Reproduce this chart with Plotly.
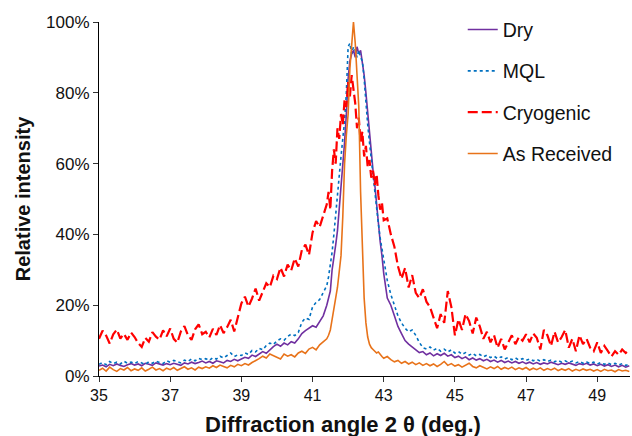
import numpy as np
import plotly.graph_objects as go

# Sampling grid for 2-theta (deg): coarse tails, finer steps across the peak
two_theta = np.round(np.concatenate([
    np.arange(35.0, 41.45, 0.1),
    np.arange(41.45, 43.01, 0.05),
    np.arange(43.1, 49.95, 0.1),
]), 2)

# Relative intensity (%) for each condition
dry = [
    2.8, 3.1, 2.6, 3.3, 2.9, 3.4, 3.0, 2.7, 3.2, 3.5,
    3.1, 3.4, 2.9, 3.6, 3.3, 3.0, 3.7, 3.4, 3.1, 3.5,
    3.2, 3.6, 3.3, 3.0, 3.7, 3.4, 3.9, 3.5, 3.8, 4.2,
    3.7, 4.1, 3.6, 4.3, 4.0, 3.7, 4.4, 4.1, 4.7, 4.3,
    4.8, 5.3, 5.0, 5.9, 5.5, 6.3, 6.9, 6.4, 7.5, 8.3,
    9.0, 8.4, 9.3, 8.8, 9.7, 9.3, 10.5, 12.0, 12.8, 13.6,
    14.2, 13.8, 15.5, 17.0, 20.0,
    22, 24, 30, 33, 37, 41, 47, 52, 58, 66,
    74, 84, 89, 91, 92, 90, 93, 91, 92, 89,
    85, 80, 74, 69, 63, 58, 54, 48, 43, 38,
    34, 29,
    22, 20, 17, 14, 12, 10, 9.0, 8.2, 7.5,
    6.6, 6.9, 6.0, 6.5, 5.7, 6.3, 5.8, 6.4, 5.6, 6.0,
    5.2, 5.6, 4.9, 5.4, 4.6, 5.1, 4.5, 4.9, 4.3, 4.7,
    4.1, 4.5, 3.9, 4.4, 3.8, 4.2, 3.7, 4.1, 3.6, 4.0,
    3.5, 3.9, 3.4, 3.8, 3.3, 3.7, 3.4, 3.9, 3.5, 3.2,
    3.6, 3.3, 3.7, 3.4, 3.0, 3.5, 3.2, 3.6, 3.1, 3.4,
    2.9, 3.3, 2.8, 3.2, 2.7, 3.1, 2.6, 3.0, 2.5, 2.9,
]

mql = [
    3.3, 3.8, 3.2, 4.1, 3.5, 3.9, 3.4, 4.2, 3.6, 3.9,
    3.5, 4.1, 3.7, 3.3, 4.0, 3.6, 4.2, 3.8, 3.5, 4.3,
    3.9, 4.4, 4.0, 3.7, 4.5, 4.1, 4.8, 4.3, 5.0, 4.6,
    4.9, 4.4, 5.2, 4.8, 5.6, 5.1, 5.8, 6.5, 5.5, 6.0,
    5.8, 6.5, 6.1, 7.2, 6.8, 7.8, 7.4, 8.6, 9.3, 8.9,
    9.9, 10.5, 10.1, 11.2, 11.8, 11.4, 12.3, 15.2, 16.4, 16.0,
    19.5, 20.8, 21.6, 23.5, 25.5,
    28, 31, 35, 40, 46, 51, 56, 62, 67, 72,
    80, 93, 94, 91, 93, 92, 90, 92, 90, 89,
    84, 77, 71, 66, 61, 56, 51, 47, 43, 39,
    36, 32,
    27, 23, 20, 17, 15, 13.5, 12.5, 13.0, 11.5,
    9.5, 8.0, 7.6, 8.2, 7.3, 7.8, 7.0, 7.6, 6.8, 7.4,
    6.5, 6.9, 6.1, 6.6, 5.9, 6.4, 5.7, 6.1, 5.4, 5.9,
    5.2, 5.6, 4.9, 5.4, 4.8, 5.2, 4.6, 5.1, 4.5, 4.9,
    4.4, 4.8, 4.3, 4.7, 4.2, 4.6, 4.1, 4.5, 4.0, 4.4,
    3.9, 4.3, 3.8, 4.2, 3.7, 4.1, 3.6, 4.0, 3.5, 3.9,
    3.4, 3.8, 3.3, 3.7, 3.2, 3.6, 3.1, 3.5, 3.0, 3.4,
]

cryogenic = [
    10.5, 12.8, 11.4, 9.2, 11.8, 13.1, 10.6, 11.9, 10.2, 12.3,
    11.0, 9.3, 8.2, 10.8, 9.7, 12.4, 11.1, 10.3, 12.9, 11.2,
    13.4, 10.5, 9.4, 12.6, 14.1, 11.5, 10.2, 13.2, 14.6, 11.8,
    12.5, 10.9, 13.3, 11.6, 14.4, 12.1, 13.8, 15.9, 12.6, 16.8,
    20.5, 22.4, 19.6, 21.9, 24.7, 21.3, 23.8, 26.2, 25.1, 28.3,
    27.4, 30.6, 28.1, 31.5, 29.8, 33.2, 30.9, 35.6, 37.1, 34.2,
    40.5, 43.8, 42.1, 45.2, 48.5,
    52, 47, 58, 64, 60, 70, 67, 74, 71, 78,
    76, 83, 79, 85, 81, 77, 70, 73, 66, 69,
    62, 65, 59, 61, 56, 58, 54, 57, 51, 47,
    49, 44,
    44.5, 40.0, 36.5, 31.0, 27.5, 30.5, 25.0, 28.5, 23.5,
    22.0, 24.5, 21.0, 19.5, 16.5, 13.5, 17.5, 15.0, 24.0, 19.5,
    11.5, 16.0, 13.0, 17.5, 15.5, 12.0, 16.5, 14.0, 10.5, 12.5,
    9.5, 11.5, 8.0, 10.5, 7.5, 9.5, 11.5, 9.0, 11.0, 10.0,
    11.8, 9.5, 12.0, 10.8, 7.5, 13.0, 11.5, 8.5, 12.5, 9.5,
    11.0, 13.0, 8.0, 10.5, 7.0, 11.5, 9.0, 10.5, 8.0, 7.0,
    9.5, 6.5, 8.5, 7.0, 5.5, 7.0, 6.0, 7.5, 6.5, 7.5,
]

as_received = [
    1.6, 2.2, 1.4, 2.5, 1.8, 1.3, 2.1, 1.7, 2.4, 1.5,
    2.0, 1.6, 2.3, 1.4, 1.9, 2.5, 1.7, 2.1, 1.5, 2.2,
    1.8, 2.4, 1.6, 2.0, 2.6, 1.9, 2.3, 1.7, 2.5, 2.1,
    2.6, 2.2, 2.9, 2.4, 3.1, 2.7, 2.3, 3.0, 2.6, 3.3,
    2.9, 3.5, 3.1, 3.8, 4.3, 4.9, 5.6, 5.1, 6.2, 5.7,
    5.3, 4.8, 6.2, 5.6, 6.0, 5.4, 6.5, 7.0, 6.4, 7.6,
    8.1, 7.4, 8.8, 9.6, 10.5,
    11.5, 13.0, 16.0, 19.5, 22.0, 25.0, 29.0, 34.0, 45.0, 60.0,
    68.0, 74.0, 87.0, 94.0, 100.0, 94.0, 85.0, 76.0, 52.0, 35.0,
    22.0, 15.0, 11.0, 9.0, 8.0, 7.5, 7.0, 6.5, 6.8, 6.0,
    5.5, 5.0,
    5.5, 4.6, 4.0, 4.4, 3.6, 4.1, 3.4, 3.9, 3.2,
    3.7, 3.0, 3.5, 2.9, 3.4, 2.7, 3.3, 4.1, 3.0, 3.5,
    2.8, 3.2, 2.5, 3.0, 3.6, 2.7, 2.3, 2.9, 2.4, 2.0,
    2.6, 2.1, 2.7, 1.9, 2.4, 2.0, 2.5, 1.8, 2.3, 1.9,
    2.4, 1.7, 2.2, 1.8, 2.3, 1.6, 2.1, 1.7, 2.2, 1.5,
    2.0, 1.6, 2.1, 1.4, 1.9, 1.5, 2.0, 1.6, 1.9, 1.4,
    1.8, 1.3, 1.9, 1.5, 1.7, 1.2, 1.8, 1.4, 1.6, 1.3,
]

x_ticks = [35, 37, 39, 41, 43, 45, 47, 49]
y_ticks = [0, 20, 40, 60, 80, 100]
y_tick_labels = [f"{v}%" for v in y_ticks]

series = [
    ("Dry", dry, "#7030A0", "solid", 1.6),
    ("MQL", mql, "#0070C0", "dot", 1.6),
    ("Cryogenic", cryogenic, "#FF0000", "10px,4px", 2.2),
    ("As Received", as_received, "#E8731A", "solid", 1.6),
]

fig = go.Figure()
for name, vals, color, dash, width in series:
    fig.add_trace(go.Scatter(
        x=two_theta, y=vals, mode="lines", name=name, legendgroup=name,
        line=dict(color=color, dash=dash, width=width),
    ))

font_family = "Liberation Sans, Arial, Helvetica, sans-serif"

fig.update_layout(
    width=632, height=436,
    margin=dict(l=99, r=2, t=22, b=60),
    paper_bgcolor="white", plot_bgcolor="white",
    font=dict(family=font_family, size=16, color="#111"),
    showlegend=True,
    legend=dict(
        x=0.685, y=1.033, xanchor="left", yanchor="top",
        bgcolor="rgba(0,0,0,0)", font=dict(size=19.5, color="#111"),
        tracegroupgap=13, itemwidth=30,
    ),
    xaxis=dict(
        range=[35, 49.92], tickvals=x_ticks, ticks="outside", ticklen=5,
        tickcolor="#333", showline=True, linecolor="#000", linewidth=1.2,
        showgrid=False, zeroline=False, automargin=False,
        tickfont=dict(size=16),
    ),
    yaxis=dict(
        range=[0, 100], tickvals=y_ticks, ticktext=y_tick_labels,
        ticks="outside", ticklen=5, tickcolor="#333", showline=True,
        linecolor="#000", linewidth=1.2, showgrid=False, zeroline=False,
        automargin=False, tickfont=dict(size=17),
        title=dict(text="<b>Relative intensity</b>",
                   font=dict(size=20, color="#111"), standoff=10),
    ),
    annotations=[dict(
        text="<b>Diffraction angle 2 θ (deg.)</b>",
        xref="paper", yref="paper", x=0.4595, y=-0.138,
        xanchor="center", yanchor="middle", showarrow=False,
        font=dict(size=22, color="#111"),
    )],
)

fig.write_html("out.html")
